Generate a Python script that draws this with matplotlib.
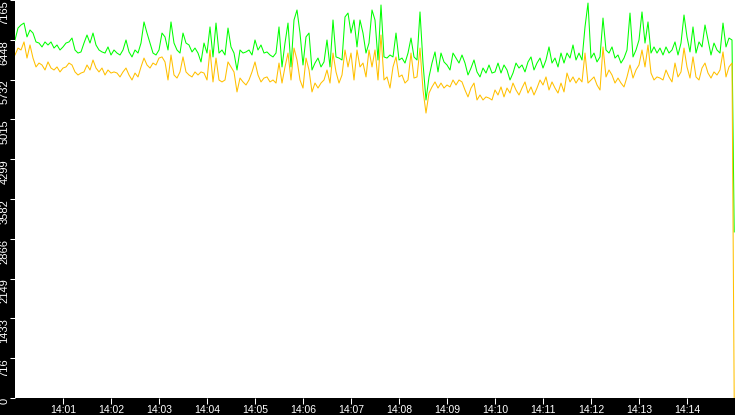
import pandas as pd
import matplotlib
matplotlib.use("Agg")
import matplotlib.pyplot as plt
import matplotlib.dates as mdates

# values, one sample about every 3.75 s from 14:00:00
green_vals = [
    6445, 6660, 6715, 6750, 6500, 6625, 6570, 6410, 6390, 6320,
    6410, 6355, 6410, 6300, 6355, 6265, 6320, 6390, 6410, 6480,
    6265, 6210, 6230, 6390, 6535, 6390, 6570, 6355, 6265, 6230,
    6210, 6320, 6175, 6265, 6210, 6175, 6265, 6445, 6230, 6140,
    6265, 6210, 6390, 6770, 6570, 6390, 6210, 6175, 6265, 6570,
    6500, 6265, 6770, 6390, 6265, 6210, 6570, 6390, 6355, 6230,
    6300, 6210, 6050, 6390, 6210, 6680, 6140, 6750, 6210, 6265,
    6175, 6660, 6320, 6210, 5905, 6265, 6210, 6230, 6265, 6175,
    6445, 6265, 6355, 6210, 6230, 6175, 6140, 6210, 6680, 5960,
    6390, 6750, 5960, 6805, 6985, 6570, 5995, 6500, 6570, 5905,
    6030, 6120, 5960, 6050, 6445, 5960, 6805, 6140, 6120, 6085,
    6860, 6930, 6570, 6805, 6320, 6805, 6570, 6210, 6390, 6985,
    6805, 6085, 7075, 6140, 6120, 6175, 6140, 6570, 6085, 6120,
    6030, 6210, 6480, 6140, 6085, 6950, 6030, 5365, 5780, 6030,
    6230, 5870, 6210, 6050, 5995, 5905, 6210, 6120, 6030, 6175,
    6030, 5815, 5940, 6085, 5870, 5780, 5940, 5850, 5995, 5850,
    5870, 6030, 5850, 5995, 5905, 5725, 5850, 6030, 5940, 5995,
    5870, 6050, 6140, 5905, 6030, 6120, 5940, 6085, 6320, 6030,
    6120, 5960, 6210, 6030, 6210, 6120, 6355, 6085, 6210, 6085,
    6680, 7110, 6120, 6210, 6050, 6140, 6840, 6265, 6210, 6320,
    6120, 6175, 6030, 6120, 6265, 6930, 6140, 6265, 6445, 6950,
    6390, 6770, 6210, 6320, 6210, 6300, 6175, 6320, 6210, 6265,
    6410, 6175, 6390, 6895, 6500, 6230, 6680, 6210, 6410, 6320,
    6715, 6445, 6175, 6390, 6265, 6210, 6750, 6320, 6480, 6445,
    2990,
]

orange_vals = [
    6175, 6300, 6265, 6410, 6120, 6355, 6120, 5960, 6030, 5995,
    5905, 6050, 5940, 5905, 5960, 5870, 5940, 5960, 6030, 5995,
    5870, 5815, 5850, 5870, 5995, 5905, 6085, 5940, 5870, 5940,
    5815, 5905, 5850, 5870, 5850, 5780, 5870, 5940, 5815, 5725,
    5850, 5780, 5960, 6120, 5995, 5940, 6030, 5995, 6120, 6140,
    6050, 5725, 6175, 5815, 5760, 5870, 6140, 5870, 5815, 5780,
    5870, 5815, 5870, 5850, 5725, 6265, 5690, 6120, 5725, 5690,
    5725, 6050, 5960, 5870, 5510, 5760, 5690, 5635, 5725, 5870,
    6050, 5815, 5690, 5760, 5780, 5690, 5725, 5670, 6030, 5670,
    5960, 6210, 5725, 6300, 6085, 5725, 5580, 6120, 5905, 5510,
    5670, 5580, 5670, 5725, 5905, 5670, 6210, 5870, 5670, 5815,
    6265, 5960, 6210, 5725, 6265, 5960, 6030, 5780, 6265, 5960,
    6265, 5725, 6535, 5725, 5780, 5580, 5960, 6140, 5780, 5815,
    5670, 5725, 6210, 5760, 5780, 6300, 5545, 5130, 5490, 5600,
    5690, 5580, 5670, 5580, 5635, 5600, 5725, 5635, 5725, 5690,
    5545, 5420, 5580, 5670, 5365, 5455, 5365, 5420, 5400, 5365,
    5545, 5455, 5600, 5420, 5580, 5490, 5670, 5545, 5455, 5580,
    5690, 5490, 5600, 5455, 5580, 5725, 5635, 5780, 5545, 5690,
    5580, 5490, 5670, 5510, 5850, 5690, 5780, 5670, 5760, 5690,
    6210, 5670, 5725, 5780, 5635, 5545, 6320, 5780, 5905, 5815,
    5670, 5760, 5670, 5600, 5780, 5995, 5760, 5905, 5995, 6265,
    5960, 6355, 5850, 5725, 5780, 5760, 5725, 5905, 5780, 5690,
    6030, 5780, 5870, 6300, 5960, 5760, 6140, 5780, 5725, 5940,
    6030, 5850, 5760, 5870, 5815, 5905, 6230, 5780, 5960, 6030,
    0,
]

# regular samples, then the last reading (where both series drop) at 14:14:59
sample_times = pd.date_range("2024-01-01 14:00:00", periods=len(green_vals) - 1, freq="3750ms")
times = sample_times.append(pd.DatetimeIndex([pd.Timestamp("2024-01-01 14:14:59")]))

y_ticks = [0, 716.5, 1433, 2149.5, 2866, 3582.5, 4299, 5015.5, 5732, 6448.5, 7165]
y_labels = ["0", "716", "1433", "2149", "2866", "3582", "4299", "5015", "5732", "6448", "7165"]
x_tick_times = pd.date_range("2024-01-01 14:01:00", "2024-01-01 14:14:00", freq="1min")

W, H = 735, 415
fig = plt.figure(figsize=(W / 100, H / 100), dpi=100, facecolor="black")
ax = fig.add_axes([15 / W, 17 / H, 720 / W, 398 / H])
ax.set_facecolor("white")

ax.plot(times, green_vals, color="#00ff00", lw=0.75, zorder=2)
ax.plot(times, orange_vals, color="#ffc000", lw=0.75, zorder=3)

ax.set_xlim(pd.Timestamp("2024-01-01 14:00:00"), pd.Timestamp("2024-01-01 14:15:00"))
ax.set_ylim(0, 7165)

ax.set_yticks(y_ticks)
ax.set_yticklabels(y_labels, rotation=90, va="top", family="Liberation Sans", fontsize=8)
ax.set_xticks(x_tick_times)
ax.xaxis.set_major_formatter(mdates.DateFormatter("%H:%M"))
for lbl in ax.get_xticklabels():
    lbl.set_family("Liberation Sans")
    lbl.set_fontsize(7.5)

ax.tick_params(axis="y", colors="white", direction="out", length=3.6, width=0.75, pad=0.5)
ax.tick_params(axis="x", colors="white", direction="out", length=4.3, width=0.75, pad=0.5)
for s in ax.spines.values():
    s.set_visible(False)

fig.savefig("out.png", dpi=100, facecolor="black")
